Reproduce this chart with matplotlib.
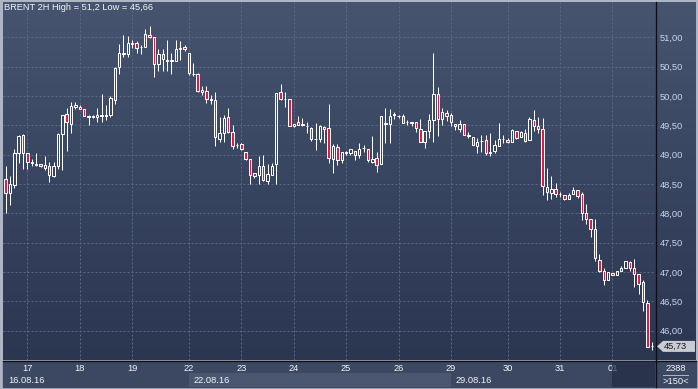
import matplotlib
matplotlib.use("Agg")
import matplotlib.pyplot as plt
import numpy as np
from matplotlib.colors import LinearSegmentedColormap
from matplotlib.patches import Polygon, Rectangle

TITLE = "BRENT 2H High = 51,2 Low = 45,66"

# 2H candles, oldest first (150 bars on screen)
OPEN = [48.36, 48.58, 48.34, 48.49, 49.02, 49.34, 49.02, 48.86, 48.82, 48.84,
        48.78, 48.80, 48.63, 48.80, 49.35, 49.69, 49.53, 49.81, 49.81, 49.77,
        49.64, 49.64, 49.64, 49.65, 49.68, 49.68, 49.93, 50.49, 50.72, 50.72,
        50.89, 50.90, 50.83, 50.84, 51.04, 51.00, 50.54, 50.71, 50.61, 50.60,
        50.60, 50.80, 50.83, 50.74, 50.38, 50.38, 50.10, 50.09, 49.94, 49.93,
        49.27, 49.37, 49.64, 49.38, 49.16, 49.18, 49.04, 48.92, 48.68, 48.65,
        48.81, 48.55, 48.65, 48.84, 50.06, 49.94, 49.95, 49.48, 49.55, 49.51,
        49.49, 49.45, 49.27, 49.27, 49.47, 49.45, 48.93, 49.13, 48.90, 49.05,
        49.02, 49.07, 49.00, 49.11, 49.09, 48.87, 48.95, 48.84, 49.52, 49.52,
        49.68, 49.66, 49.66, 49.55, 49.55, 49.55, 49.44, 49.21, 49.40, 49.59,
        50.04, 49.61, 49.71, 49.68, 49.52, 49.43, 49.52, 49.33, 49.30, 49.15,
        49.23, 49.25, 49.04, 49.07, 49.14, 49.26, 49.25, 49.22, 49.41, 49.30,
        49.36, 49.25, 49.59, 49.49, 49.43, 48.44, 48.34, 48.41, 48.33, 48.31,
        48.24, 48.32, 48.40, 48.32, 48.01, 47.90, 47.73, 47.21, 47.02, 46.86,
        46.98, 46.95, 47.02, 47.06, 47.17, 47.07, 46.96, 46.82, 46.47, 45.73]
HIGH = [48.62, 48.81, 48.64, 49.09, 49.33, 49.35, 49.03, 48.92, 49.02, 48.84,
        48.97, 48.88, 48.88, 49.37, 49.68, 49.79, 49.90, 49.90, 49.85, 49.77,
        49.67, 49.68, 49.80, 50.03, 49.85, 50.00, 50.50, 50.88, 51.04, 51.02,
        50.95, 50.94, 50.87, 51.14, 51.20, 51.00, 50.80, 50.80, 50.95, 50.73,
        50.95, 50.94, 50.87, 50.74, 50.56, 50.39, 50.17, 50.17, 50.01, 50.07,
        49.64, 49.68, 49.80, 49.51, 49.19, 49.20, 49.05, 48.92, 48.68, 48.98,
        49.00, 48.84, 48.86, 50.05, 50.20, 50.06, 49.95, 49.53, 49.65, 49.63,
        49.56, 49.47, 49.54, 49.51, 49.49, 49.86, 49.18, 49.18, 49.05, 49.06,
        49.09, 49.07, 49.19, 49.16, 49.09, 49.32, 49.04, 49.66, 49.79, 49.78,
        49.73, 49.68, 49.69, 49.59, 49.55, 49.55, 49.61, 49.40, 49.70, 50.73,
        50.16, 49.80, 49.76, 49.71, 49.53, 49.59, 49.52, 49.38, 49.30, 49.28,
        49.33, 49.34, 49.36, 49.25, 49.54, 49.33, 49.28, 49.43, 49.41, 49.41,
        49.44, 49.64, 49.76, 49.64, 49.62, 48.78, 48.63, 48.51, 48.37, 48.31,
        48.34, 48.44, 48.40, 48.37, 48.16, 47.91, 47.90, 47.30, 47.06, 46.99,
        46.98, 47.02, 47.10, 47.19, 47.18, 47.22, 46.97, 46.86, 46.52, 45.80]
LOW = [48.30, 48.01, 48.14, 48.43, 48.86, 48.75, 48.75, 48.80, 48.81, 48.79,
       48.74, 48.54, 48.62, 48.75, 48.73, 49.07, 49.36, 49.77, 49.77, 49.65,
       49.51, 49.63, 49.56, 49.55, 49.59, 49.64, 49.87, 50.38, 50.67, 50.67,
       50.81, 50.74, 50.72, 50.84, 50.98, 50.32, 50.43, 50.43, 50.43, 50.38,
       50.59, 50.61, 50.77, 50.35, 50.34, 50.07, 50.02, 49.88, 49.86, 49.15,
       49.21, 49.21, 49.36, 49.09, 49.12, 49.08, 48.90, 48.50, 48.60, 48.50,
       48.55, 48.50, 48.65, 48.50, 49.93, 49.82, 49.48, 49.47, 49.50, 49.48,
       49.37, 49.24, 49.08, 49.22, 49.20, 48.85, 48.68, 48.83, 48.85, 49.00,
       49.00, 48.91, 48.95, 49.05, 48.87, 48.85, 48.70, 48.84, 49.19, 49.19,
       49.61, 49.63, 49.54, 49.50, 49.48, 49.38, 49.22, 49.12, 49.28, 49.21,
       49.31, 49.51, 49.57, 49.48, 49.42, 49.38, 49.33, 49.28, 49.17, 49.02,
       49.05, 49.00, 48.97, 49.02, 49.14, 49.20, 49.20, 49.22, 49.27, 49.30,
       49.22, 49.25, 49.41, 49.36, 48.31, 48.22, 48.24, 48.28, 48.28, 48.23,
       48.24, 48.32, 48.26, 47.88, 47.82, 47.60, 47.19, 46.99, 46.77, 46.86,
       46.94, 46.94, 47.02, 47.06, 47.02, 46.75, 46.63, 46.34, 45.72, 45.66]
CLOSE = [48.58, 48.34, 48.50, 49.02, 49.32, 49.02, 48.88, 48.87, 48.84, 48.80,
         48.82, 48.65, 48.80, 49.35, 49.68, 49.55, 49.83, 49.85, 49.77, 49.66,
         49.65, 49.66, 49.68, 49.68, 49.65, 49.96, 50.47, 50.73, 50.74, 50.90,
         50.90, 50.82, 50.83, 51.06, 51.00, 50.54, 50.71, 50.63, 50.60, 50.61,
         50.80, 50.81, 50.80, 50.39, 50.37, 50.09, 50.06, 49.94, 49.93, 49.30,
         49.36, 49.62, 49.39, 49.14, 49.17, 49.09, 48.92, 48.66, 48.64, 48.80,
         48.56, 48.67, 48.81, 50.05, 49.94, 49.94, 49.48, 49.53, 49.51, 49.51,
         49.49, 49.26, 49.27, 49.49, 49.43, 48.94, 49.14, 48.91, 49.04, 49.02,
         49.09, 49.00, 49.09, 49.12, 48.91, 48.93, 48.83, 49.66, 49.54, 49.66,
         49.69, 49.66, 49.54, 49.56, 49.54, 49.45, 49.22, 49.40, 49.59, 50.04,
         49.61, 49.73, 49.65, 49.55, 49.48, 49.53, 49.33, 49.32, 49.17, 49.22,
         49.24, 49.02, 49.03, 49.16, 49.26, 49.26, 49.21, 49.42, 49.29, 49.38,
         49.23, 49.60, 49.49, 49.43, 48.46, 48.36, 48.42, 48.32, 48.33, 48.24,
         48.31, 48.40, 48.29, 48.01, 47.90, 47.74, 47.23, 47.02, 46.86, 46.99,
         46.94, 47.02, 47.06, 47.19, 47.06, 46.97, 46.80, 46.48, 45.72, 45.73]

DAY_LABELS = ["17", "18", "19", "22", "23", "24", "25", "26", "29", "30", "31", "01"]
DAY_START = [6, 18, 30, 43, 55, 67, 79, 91, 103, 116, 128, 140]   # bar index of first bar of day
WEEK_LABELS = ["16.08.16", "22.08.16", "29.08.16"]
WEEK_START = [0, 43, 103]
PRICE_TICKS = [46.0, 46.5, 47.0, 47.5, 48.0, 48.5, 49.0, 49.5, 50.0, 50.5, 51.0]
VOLUME_LABEL = "2388"
BARS_LABEL = ">150<"

W, H = 698, 389
BG_TOP, BG_BOT = "#46546f", "#2b3651"
PANEL, WEEK_ALT, TODAY = "#3c4862", "#4b5771", "#1f2940"
BORDER, SEP = "#aeb6c5", "#0b0f17"
GRID, RED = "#5b6985", "#e8173e"
INK, AXTXT = "#f2f4f8", "#c9d5ea"
FS = 6.7
PX = 0.72   # one pixel in points at dpi 100

plt.rcParams["font.family"] = ["Liberation Sans", "DejaVu Sans"]


def box(x0, y0, x1, y1):
    """pixel rectangle (origin top-left) -> figure fraction [l, b, w, h]"""
    return [x0 / W, 1 - y1 / H, (x1 - x0) / W, (y1 - y0) / H]


fig = plt.figure(figsize=(W / 100, H / 100), dpi=100, facecolor=BORDER)

# background layer: gradient plot area, bottom strip, separators, corner counters
bg = fig.add_axes([0, 0, 1, 1])
cmap = LinearSegmentedColormap.from_list("bg", [BG_TOP, BG_BOT])
bg.imshow(np.linspace(0, 1, 256)[:, None], cmap=cmap, extent=[3, 696, 360, 2],
          aspect="auto", interpolation="bilinear")
bg.add_patch(Rectangle((3, 361), 693, 26, color=PANEL))
bg.plot([655.5, 655.5], [2, 387], color=SEP, lw=1.3 * PX)
bg.plot([3, 696], [360.5, 360.5], color=SEP, lw=1.3 * PX)
bg.text(676, 370.7, VOLUME_LABEL, ha="center", va="baseline", fontsize=FS, color=INK)
bg.plot([663, 688], [374.5, 374.5], color="#aab3c4", lw=PX)
bg.text(676, 384, BARS_LABEL, ha="center", va="baseline", fontsize=FS, color=INK)
bg.set_xlim(0, W)
bg.set_ylim(H, 0)
bg.axis("off")

# candles
ax = fig.add_axes(box(3, 2, 655, 360), facecolor="none")
o, h, l, c = map(np.array, (OPEN, HIGH, LOW, CLOSE))
x = np.arange(len(o))
top, bot = np.maximum(o, c), np.minimum(o, c)
ax.vlines(x, top, h, color="white", lw=PX, zorder=3)
ax.vlines(x, l, bot, color="white", lw=PX, zorder=3)
ax.bar(x, np.maximum(top - bot, 0.004), bottom=bot, width=0.55,
       color=["none" if cc >= oo else RED for oo, cc in zip(o, c)],
       edgecolor="white", lw=PX, zorder=4)
ax.set_xlim(0.41, 149.75)
ax.set_ylim(45.498, 51.602)

ax.set_yticks(PRICE_TICKS)
ax.set_yticklabels([f"{v:.2f}".replace(".", ",") for v in PRICE_TICKS])
ax.yaxis.tick_right()
ax.set_xticks(DAY_START)
ax.set_xticklabels(DAY_LABELS)
ax.grid(True, color=GRID, lw=PX, ls=(0, (2, 2)))
ax.set_axisbelow(True)
ax.tick_params(axis="y", length=0, pad=3.3, labelsize=FS, labelcolor=AXTXT)
ax.tick_params(axis="x", length=0, pad=2.8, labelsize=FS, labelcolor=INK)
for s in ax.spines.values():
    s.set_visible(False)

ax.annotate(TITLE, xy=(0, 1), xycoords="axes fraction", xytext=(0.7, -0.7),
            textcoords="offset points", ha="left", va="top", fontsize=FS, color=INK)

# last price tag in the price column
last = CLOSE[-1]
ypx = (51.602 - 45.498) / 358
tr = ax.get_yaxis_transform()
tag = Polygon([(1.0031, last), (1.0123, last + 5.5 * ypx), (1.0613, last + 5.5 * ypx),
               (1.0613, last - 5.5 * ypx), (1.0123, last - 5.5 * ypx)],
              closed=True, transform=tr, clip_on=False, facecolor="#c9ccd3",
              edgecolor="none", zorder=5)
ax.add_patch(tag)
ax.text(1.0135, last, f"{last:.2f}".replace(".", ","), transform=tr, ha="left",
        va="center", fontsize=FS, color="#1a1a1a", zorder=6, clip_on=False)

# week strip under the day labels
axb = fig.add_axes(box(3, 361, 655, 387), facecolor="none", sharex=ax)
axb.set_ylim(0, 1)
axb.axis("off")
x0, x1 = ax.get_xlim()
ends = WEEK_START[1:] + [x1]
for i, (lab, s, e) in enumerate(zip(WEEK_LABELS, WEEK_START, ends)):
    if i % 2:
        axb.axvspan(s, e, ymin=0, ymax=0.54, color=WEEK_ALT, lw=0)
    axb.annotate(lab, xy=(max(s, x0), 0.14), xycoords=("data", "axes fraction"),
                 xytext=(3.6, 0), textcoords="offset points", va="baseline",
                 fontsize=FS, color=INK)
axb.axvspan(DAY_START[-1], x1, color=TODAY, alpha=0.65, lw=0)
ax.set_xlim(x0, x1)

fig.savefig("out.png", dpi=100, facecolor=BORDER)
